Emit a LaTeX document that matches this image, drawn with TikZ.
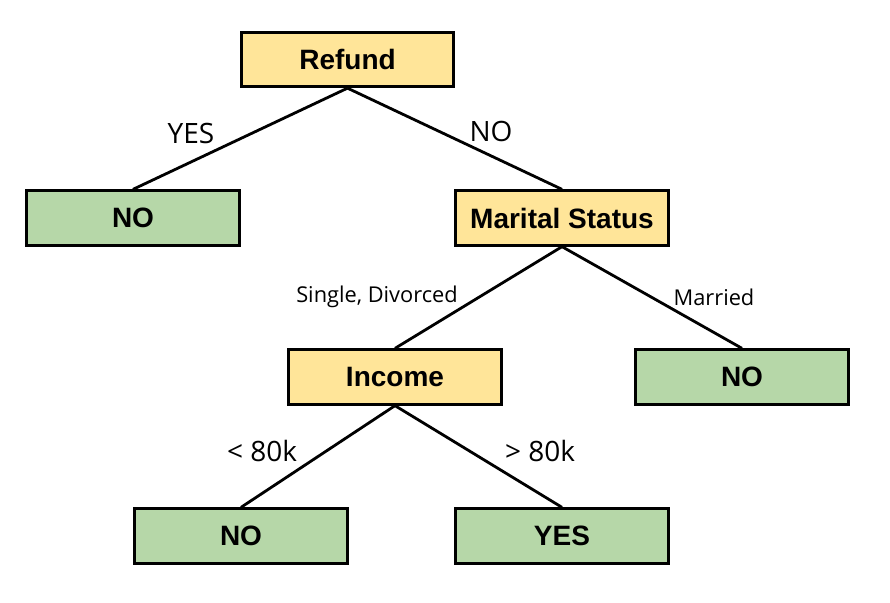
\documentclass[tikz,border=0pt]{standalone}
\usepackage{fontspec}
\setmainfont{Liberation Sans}
\newfontfamily\lblfont{Open Sans}
\definecolor{testfill}{HTML}{FFE599}
\definecolor{leaffill}{HTML}{B6D7A8}

\begin{document}
\begin{tikzpicture}[x=1pt,y=-1pt,
	box/.style={draw=black, line width=2.8pt, minimum width=212.5pt, minimum height=54.5pt, inner sep=0pt, font=\fontsize{28}{30}\selectfont\bfseries},
	test/.style={box, fill=testfill},
	leaf/.style={box, fill=leaffill},
	branch/.style={line width=2.8pt},
	biglbl/.style={font=\lblfont\fontsize{28}{30}\selectfont},
	smalllbl/.style={font=\lblfont\fontsize{21.8}{24}\selectfont}]
		\useasboundingbox (0,0) rectangle (890,602);
		
		% tests
		\node[test] (refund) at (347.5,59.5) {Refund};
		\node[test] (marital) at (562,218) {Marital Status};
		\node[test] (income) at (395,377) {Income};
		
		% leaves
		\node[leaf] (no1) at (133,218) {NO};
		\node[leaf] (no2) at (742,377) {NO};
		\node[leaf] (no3) at (241,536) {NO};
		\node[leaf] (yes1) at (562,536) {YES};
		
		% branches
		\draw[branch] (refund.south) -- (no1.north);
		\draw[branch] (refund.south) -- (marital.north);
		\draw[branch] (marital.south) -- (income.north);
		\draw[branch] (marital.south) -- (no2.north);
		\draw[branch] (income.south) -- (no3.north);
		\draw[branch] (income.south) -- (yes1.north);
		
		% branch labels
		\node[biglbl] (lyes) at (191,133) {YES};
		\node[biglbl] (lno) at (491,131) {NO};
		\node[smalllbl] (lsingle) at (377,297) {Single, Divorced};
		\node[smalllbl] (lmarried) at (714,297) {Married};
		\node[biglbl] (llow) at (262,451) {< 80k};
		\node[biglbl] (lhigh) at (540,451) {> 80k};
	\end{tikzpicture}
\end{document}
